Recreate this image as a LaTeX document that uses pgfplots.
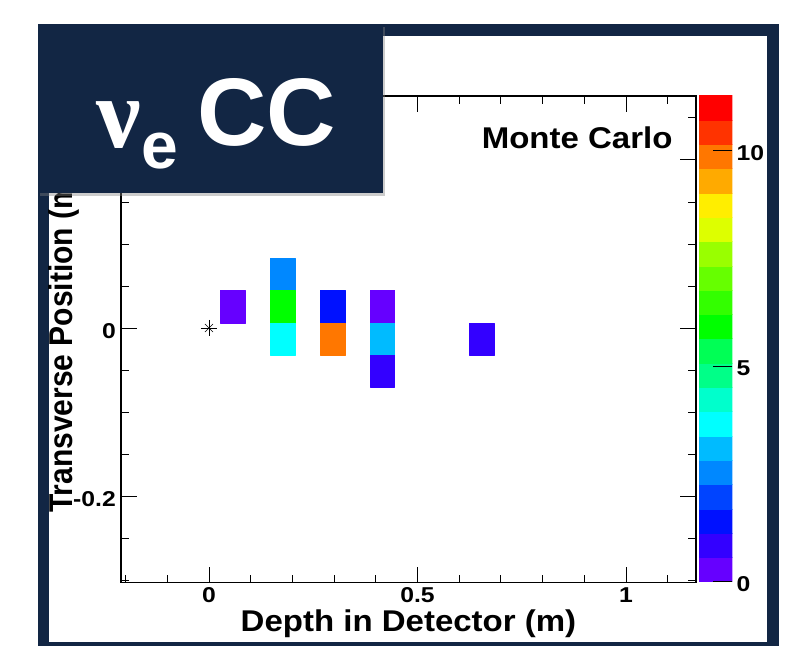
\documentclass[border=0pt]{standalone}
\usepackage{fontspec}
\setmainfont{Liberation Sans}
\newfontfamily\serifbold{Liberation Serif}
\usepackage{pgfplots}
\pgfplotsset{compat=1.18}
\usepgfplotslibrary{patchplots}
\usetikzlibrary{shadows}
\definecolor{navy}{RGB}{18,38,68}
\pgfplotsset{
  colormap={root}{rgb255=(102,0,255) rgb255=(51,0,255) rgb255=(0,17,255) rgb255=(0,68,255) rgb255=(0,136,255) rgb255=(0,187,255) rgb255=(0,255,255) rgb255=(0,255,204) rgb255=(0,255,136) rgb255=(0,255,85) rgb255=(0,255,0) rgb255=(51,255,0) rgb255=(102,255,0) rgb255=(153,255,0) rgb255=(221,255,0) rgb255=(255,238,0) rgb255=(255,170,0) rgb255=(255,119,0) rgb255=(255,51,0) rgb255=(255,0,0)}
}
\newcommand\tickf{\fontsize{21.5}{24}\selectfont\bfseries}
\newcommand\titf{\fontsize{30}{36}\selectfont\bfseries}
\begin{document}
\begin{tikzpicture}
\path[use as bounding box] (0,0) rectangle (807pt,646pt);
% frame
\fill[navy] (37.7pt,-20pt) rectangle (779.3pt,621.7pt);
\fill[white] (49.3pt,4.3pt) rectangle (767pt,610pt);
\begin{axis}[
  at={(121pt,63.3pt)}, anchor=south west,
  scale only axis, width=575pt, height=486.7pt,
  xmin=-0.211, xmax=1.168, ymin=-0.303, ymax=0.276,
  xtick={0,0.5,1}, xticklabels={0,0.5,1},
  minor xtick={-0.2,-0.1,0.1,0.2,0.3,0.4,0.6,0.7,0.8,0.9,1.1},
  ytick={-0.2,0,0.2}, yticklabels={-0.2,0,0.2},
  minor ytick={-0.3,-0.25,-0.15,-0.1,-0.05,0.05,0.1,0.15,0.25},
  tick align=inside, major tick length=16pt, minor tick length=8pt,
  xtick pos=both, ytick pos=both, xticklabel pos=left, yticklabel pos=left,
  every tick/.style={black, line width=0.8pt},
  axis line style={line width=1.1pt},
  xticklabel style={font=\tickf, inner sep=0pt, yshift=-5pt, xscale=1.15},
  yticklabel style={font=\tickf, inner sep=0pt, xshift=-5pt, yshift=-3pt, xscale=1.15},
  xlabel={Depth in Detector (m)}, ylabel={Transverse Position (m)},
  every axis x label/.style={at={(axis description cs:0.5,0)}, anchor=base, yshift=-49pt, font=\titf, xscale=1.1, inner sep=0pt},
  every axis y label/.style={at={(axis description cs:-0.0835,0.1432)}, rotate=90, anchor=base west, font=\titf, yscale=1.1, inner sep=0pt},
  colormap name=root, colormap access=piecewise constant,
  point meta min=0, point meta max=11.28,
]
\addplot[patch, patch type=rectangle, shader=flat, point meta=explicit] table[meta=z] {
x y z
0.0275 0.0063 0.3
0.0872 0.0063 0.3
0.0872 0.0447 0.3
0.0275 0.0447 0.3
0.1469 0.0447 2.5
0.2066 0.0447 2.5
0.2066 0.0831 2.5
0.1469 0.0831 2.5
0.1469 0.0063 5.9
0.2066 0.0063 5.9
0.2066 0.0447 5.9
0.1469 0.0447 5.9
0.1469 -0.0321 3.7
0.2066 -0.0321 3.7
0.2066 0.0063 3.7
0.1469 0.0063 3.7
0.2663 0.0063 1.4
0.3260 0.0063 1.4
0.3260 0.0447 1.4
0.2663 0.0447 1.4
0.2663 -0.0321 9.9
0.3260 -0.0321 9.9
0.3260 0.0063 9.9
0.2663 0.0063 9.9
0.3857 0.0063 0.3
0.4454 0.0063 0.3
0.4454 0.0447 0.3
0.3857 0.0447 0.3
0.3857 -0.0321 3.1
0.4454 -0.0321 3.1
0.4454 0.0063 3.1
0.3857 0.0063 3.1
0.3857 -0.0705 0.85
0.4454 -0.0705 0.85
0.4454 -0.0321 0.85
0.3857 -0.0321 0.85
0.6245 -0.0321 0.85
0.6842 -0.0321 0.85
0.6842 0.0063 0.85
0.6245 0.0063 0.85
};
\addplot[only marks, mark=+, mark size=8pt, black, mark options={line width=0.6pt}] coordinates {(0,0)};
\addplot[only marks, mark=x, mark size=5.7pt, black, mark options={line width=0.6pt}] coordinates {(0,0)};
\end{axis}
% colour scale
\begin{axis}[
  at={(699pt,64.3pt)}, anchor=south west,
  scale only axis, width=33.3pt, height=486pt,
  xmin=0, xmax=1, ymin=0, ymax=11.28,
  axis line style={draw=none}, xtick=\empty,
  ytick={0,5,10}, yticklabels={0,5,10}, minor ytick={},
  ytick pos=right, yticklabel pos=right,
  tick align=inside, major tick length=19pt,
  every tick/.style={black, line width=0.9pt}, axis on top,
  yticklabel style={font=\tickf, inner sep=0pt, xshift=4pt, yshift=-2pt, xscale=1.15},
  colormap name=root, colormap access=piecewise constant,
  point meta min=0, point meta max=11.28,
]
\addplot[patch, patch type=rectangle, shader=flat, point meta=explicit] table[meta=z] {
x y z
0 0 0.282
1 0 0.282
1 0.564 0.282
0 0.564 0.282
0 0.564 0.846
1 0.564 0.846
1 1.128 0.846
0 1.128 0.846
0 1.128 1.41
1 1.128 1.41
1 1.692 1.41
0 1.692 1.41
0 1.692 1.974
1 1.692 1.974
1 2.256 1.974
0 2.256 1.974
0 2.256 2.538
1 2.256 2.538
1 2.82 2.538
0 2.82 2.538
0 2.82 3.102
1 2.82 3.102
1 3.384 3.102
0 3.384 3.102
0 3.384 3.666
1 3.384 3.666
1 3.948 3.666
0 3.948 3.666
0 3.948 4.23
1 3.948 4.23
1 4.512 4.23
0 4.512 4.23
0 4.512 4.794
1 4.512 4.794
1 5.076 4.794
0 5.076 4.794
0 5.076 5.358
1 5.076 5.358
1 5.64 5.358
0 5.64 5.358
0 5.64 5.922
1 5.64 5.922
1 6.204 5.922
0 6.204 5.922
0 6.204 6.486
1 6.204 6.486
1 6.768 6.486
0 6.768 6.486
0 6.768 7.05
1 6.768 7.05
1 7.332 7.05
0 7.332 7.05
0 7.332 7.614
1 7.332 7.614
1 7.896 7.614
0 7.896 7.614
0 7.896 8.178
1 7.896 8.178
1 8.46 8.178
0 8.46 8.178
0 8.46 8.742
1 8.46 8.742
1 9.024 8.742
0 9.024 8.742
0 9.024 9.306
1 9.024 9.306
1 9.588 9.306
0 9.588 9.306
0 9.588 9.87
1 9.588 9.87
1 10.152 9.87
0 10.152 9.87
0 10.152 10.434
1 10.152 10.434
1 10.716 10.434
0 10.716 10.434
0 10.716 10.998
1 10.716 10.998
1 11.28 10.998
0 11.28 10.998
};
\end{axis}
\node[anchor=base east, font=\titf, xscale=1.1, inner sep=0pt] at (672.7pt,497.7pt) {Monte Carlo};
% title box
\path[fill=navy, drop shadow={opacity=0.4, shadow xshift=2pt, shadow yshift=-3pt}] (37.7pt,452.7pt) rectangle (383.3pt,621.7pt);
\node[anchor=base west, inner sep=0pt, text=white, font=\serifbold\bfseries\fontsize{100}{110}\selectfont] at (96pt,498pt) {ν};
\node[anchor=base west, inner sep=0pt, text=white, font=\bfseries\fontsize{66}{70}\selectfont] at (141pt,477pt) {e};
\node[anchor=base west, inner sep=0pt, text=white, font=\bfseries\fontsize{96}{100}\selectfont] at (197pt,500pt) {CC};
\end{tikzpicture}
\end{document}
